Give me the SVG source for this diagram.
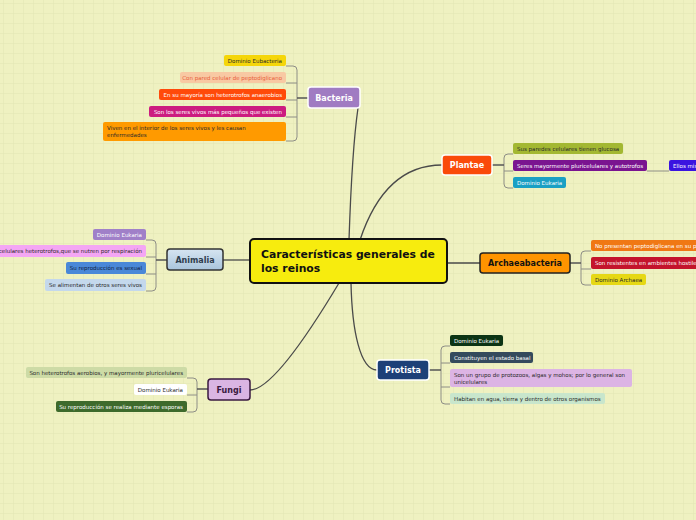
<svg xmlns="http://www.w3.org/2000/svg" width="696" height="520" viewBox="0 0 696 520">
<defs>
<pattern id="grid" x="3" y="3" width="10" height="10" patternUnits="userSpaceOnUse">
<path d="M0,0 H10 M0,0 V10" fill="none" stroke="#e1e5b3" stroke-width="1"/>
</pattern>
<linearGradient id="anim" x1="0" y1="0" x2="0" y2="1">
<stop offset="0" stop-color="#d6e5f1"/>
<stop offset="1" stop-color="#a9c4dc"/>
</linearGradient>
<style>
.main{fill:none;stroke:#4a4a4a;stroke-width:1.3}
.stem{fill:none;stroke:#555;stroke-width:1.5}
.br{fill:none;stroke:#8e8e86;stroke-width:1}
.node text{font-family:"DejaVu Sans",Verdana,sans-serif;font-weight:bold;font-size:8px;text-anchor:middle}
.leaf text{font-family:"DejaVu Sans",Verdana,sans-serif;font-size:5.5px}
.r text{text-anchor:end}
.dk{fill:#2a2a2a}
.wh{fill:#ffffff}
</style>
</defs>
<rect width="696" height="520" fill="#eff1c1"/>
<rect width="696" height="520" fill="url(#grid)"/>

<g id="connectors">
<path class="main" d="M349,240 Q352,150 358,108"/>
<path class="main" d="M360,240 Q385,165 442,165"/>
<path class="main" d="M447,263 H480"/>
<path class="main" d="M351,283 C352,330 360,370 377,370"/>
<path class="main" d="M339,283 Q275,390 250,390"/>
<path class="main" d="M250,260 H223"/>
<!-- Bacteria -->
<path class="br" d="M286,66 H293 Q297,66 297,70 V137 Q297,141 293,141 H286 M286,83 H297 M286,100 H297 M286,117 H297"/>
<path class="stem" d="M297,98 H308"/>
<!-- Plantae -->
<path class="br" d="M513,154 H508 Q504,154 504,158 V184 Q504,188 508,188 H513 M504,171 H513 M647,171 H669"/>
<path class="stem" d="M492,165 H504"/>
<!-- Archaebacteria -->
<path class="br" d="M591,251 H585 Q581,251 581,255 V281 Q581,285 585,285 H591 M581,269 H591"/>
<path class="stem" d="M570,263 H581"/>
<!-- Animalia -->
<path class="br" d="M146,240 H152 Q156,240 156,244 V287 Q156,291 152,291 H146 M146,257 H156 M146,274 H156"/>
<path class="stem" d="M156,260 H167"/>
<!-- Fungi -->
<path class="br" d="M187,378 H193 Q197,378 197,382 V408 Q197,412 193,412 H187 M187,395 H197"/>
<path class="stem" d="M197,389 H208"/>
<!-- Protista -->
<path class="br" d="M450,346 H445 Q441,346 441,350 V400 Q441,404 445,404 H450 M441,363 H450 M441,387 H450"/>
<path class="stem" d="M429,370 H441"/>
</g>

<g id="center" class="node">
<rect x="250" y="239" width="197" height="44" rx="4" fill="#f7ec0e" stroke="#111" stroke-width="2"/>
<text x="261" y="258" font-size="10.8" style="text-anchor:start;font-size:10.8px" fill="#111">Características generales de</text>
<text x="261" y="272" style="text-anchor:start;font-size:10.8px" fill="#111">los reinos</text>
</g>

<g id="bacteria" class="node">
<rect x="308" y="87" width="52" height="21" rx="3" fill="#a07cc2" stroke="#fff" stroke-width="1.5"/>
<text x="334" y="100.8" fill="#fff">Bacteria</text>
</g>
<g id="plantae" class="node">
<rect x="442" y="155" width="50" height="20" rx="3" fill="#fa4a0a" stroke="#fff" stroke-width="1.5"/>
<text x="467" y="168.3" fill="#fff">Plantae</text>
</g>
<g id="archaebacteria" class="node">
<rect x="480" y="253" width="90" height="20" rx="3" fill="#ff9400" stroke="#222" stroke-width="1.5"/>
<text x="525" y="266.3" fill="#111">Archaeabacteria</text>
</g>
<g id="protista" class="node">
<rect x="377" y="360" width="52" height="20" rx="3" fill="#1d4078" stroke="#fff" stroke-width="1.5"/>
<text x="403" y="373.3" fill="#fff">Protista</text>
</g>
<g id="fungi" class="node">
<rect x="208" y="379" width="42" height="21" rx="3" fill="#dab5e3" stroke="#3a1a40" stroke-width="1.5"/>
<text x="229" y="392.8" fill="#3a1a40">Fungi</text>
</g>
<g id="animalia" class="node">
<rect x="167" y="249" width="56" height="21" rx="3" fill="url(#anim)" stroke="#333" stroke-width="1.5"/>
<text x="195" y="262.8" fill="#2f3e4e">Animalia</text>
</g>

<!-- Bacteria leaves -->
<g id="b1" class="leaf r"><rect x="224" y="55" width="62" height="11" rx="2" fill="#f5d60a"/><text x="282" y="62.8" class="dk">Dominio Eubacteria</text></g>
<g id="b2" class="leaf r"><rect x="180" y="72" width="106" height="11" rx="2" fill="#f8c9a3"/><text x="282" y="79.8" fill="#e8603a">Con pared celular de peptodiglicano</text></g>
<g id="b3" class="leaf r"><rect x="159" y="89" width="127" height="11" rx="2" fill="#ff4a0a"/><text x="282" y="96.8" class="wh">En su mayoría son heterotrofos anaerobios</text></g>
<g id="b4" class="leaf r"><rect x="149" y="106" width="137" height="11" rx="2" fill="#cc1c80"/><text x="282" y="113.8" class="wh">Son los seres vivos más pequeños que existen</text></g>
<g id="b5" class="leaf"><rect x="103" y="122" width="183" height="19" rx="2" fill="#ff9a00"/><text x="107" y="129.6" class="dk">Viven en el interior de los seres vivos y les causan</text><text x="107" y="137.2" class="dk">enfermedades</text></g>

<!-- Plantae leaves -->
<g id="p1" class="leaf"><rect x="513" y="143" width="110" height="11" rx="2" fill="#a3b832"/><text x="517" y="150.8" class="dk">Sus paredes celulares tienen glucosa</text></g>
<g id="p2" class="leaf"><rect x="513" y="160" width="134" height="11" rx="2" fill="#7a1490"/><text x="517" y="167.8" class="wh">Seres mayormente pluricelulares y autotrofos</text></g>
<g id="p2a" class="leaf"><rect x="669" y="160" width="40" height="11" rx="2" fill="#3a14e0"/><text x="673" y="167.8" class="wh">Ellos mis</text></g>
<g id="p3" class="leaf"><rect x="513" y="177" width="53" height="11" rx="2" fill="#1aa0c4"/><text x="517" y="184.8" class="wh">Dominio Eukaria</text></g>

<!-- Archaebacteria leaves -->
<g id="a1" class="leaf"><rect x="591" y="240" width="120" height="11" rx="2" fill="#f07814"/><text x="595" y="247.8" class="wh">No presentan peptodiglicana en su p</text></g>
<g id="a2" class="leaf"><rect x="591" y="257" width="120" height="12" rx="2" fill="#c4142c"/><text x="595" y="265" class="wh">Son resistentes en ambientes hostile</text></g>
<g id="a3" class="leaf"><rect x="591" y="274" width="55" height="11" rx="2" fill="#e6d814"/><text x="595" y="281.8" class="dk">Dominio Archaea</text></g>

<!-- Animalia leaves -->
<g id="n1" class="leaf r"><rect x="93" y="229" width="53" height="11" rx="2" fill="#a080c8"/><text x="142" y="236.8" class="wh">Dominio Eukaria</text></g>
<g id="n2" class="leaf r"><rect x="-5" y="245" width="151" height="12" rx="2" fill="#f4a6f4"/><text x="142" y="253" class="dk">celulares heterotrofos,que se nutren por respiración</text></g>
<g id="n3" class="leaf r"><rect x="66" y="262" width="80" height="12" rx="2" fill="#4a88d8"/><text x="142" y="270" fill="#102040">Su reproducción es sexual</text></g>
<g id="n4" class="leaf r"><rect x="45" y="279" width="101" height="12" rx="2" fill="#c4d8ec"/><text x="142" y="287" class="dk">Se alimentan de otros seres vivos</text></g>

<!-- Fungi leaves -->
<g id="f1" class="leaf r"><rect x="26" y="367" width="161" height="11" rx="2" fill="#cddba6"/><text x="183" y="374.8" class="dk">Son heterotrofos aerobios, y mayormente pluricelulares</text></g>
<g id="f2" class="leaf r"><rect x="134" y="384" width="53" height="11" rx="2" fill="#ffffff"/><text x="183" y="391.8" class="dk">Dominio Eukaria</text></g>
<g id="f3" class="leaf r"><rect x="56" y="401" width="131" height="11" rx="2" fill="#3e6a2c"/><text x="183" y="408.8" class="wh">Su reproducción se realiza mediante esporas</text></g>

<!-- Protista leaves -->
<g id="t1" class="leaf"><rect x="450" y="335" width="53" height="11" rx="2" fill="#0c3414"/><text x="454" y="342.8" class="wh">Dominio Eukaria</text></g>
<g id="t2" class="leaf"><rect x="450" y="352" width="83" height="11" rx="2" fill="#344a5c"/><text x="454" y="359.8" class="wh">Constituyen el estado basal</text></g>
<g id="t3" class="leaf"><rect x="450" y="369" width="182" height="18" rx="2" fill="#dcb4e4"/><text x="454" y="376.6" class="dk">Son un grupo de protozoos, algas y mohos; por lo general son</text><text x="454" y="384.2" class="dk">unicelulares</text></g>
<g id="t4" class="leaf"><rect x="450" y="393" width="155" height="11" rx="2" fill="#c8e6cc"/><text x="454" y="400.8" class="dk">Habitan en agua, tierra y dentro de otros organismos</text></g>
</svg>
